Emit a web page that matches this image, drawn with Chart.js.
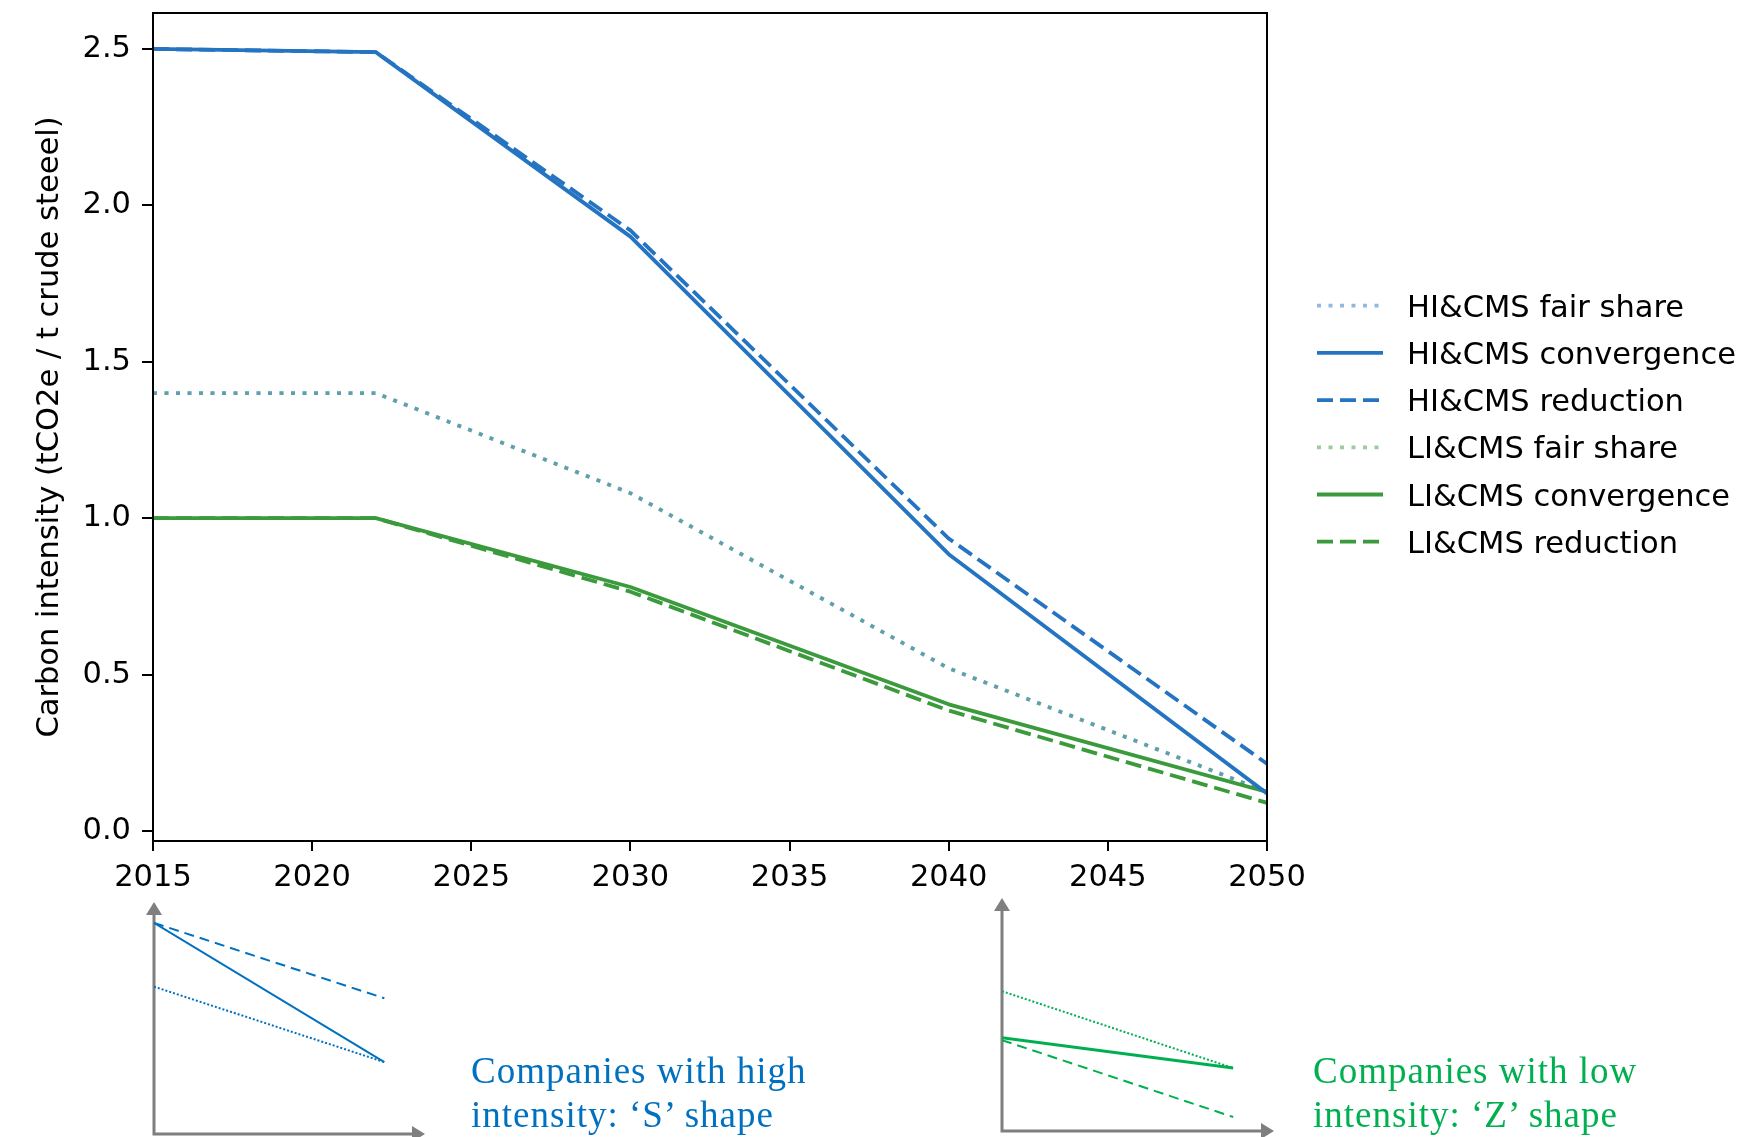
<!DOCTYPE html>
<html>
<head>
<meta charset="utf-8">
<script src="https://cdn.jsdelivr.net/npm/chart.js@4.4.1/dist/chart.umd.min.js"></script>
<style>
  html, body { margin: 0; padding: 0; background: #fff; }
  #wrap { position: relative; width: 1760px; height: 1137px; overflow: hidden; }
  canvas { position: absolute; }
  .note {
    position: absolute;
    font-family: 'Liberation Serif', 'Times New Roman', serif;
    font-size: 37px;
    line-height: 43.5px;
    white-space: nowrap;
    letter-spacing: 1px;
  }
</style>
</head>
<body>
<div id="wrap">
  <canvas id="main" width="1760" height="1137" style="left:0;top:0"></canvas>
  <canvas id="sketchS" width="300" height="247" style="left:140px;top:890px"></canvas>
  <canvas id="sketchZ" width="300" height="247" style="left:990px;top:890px"></canvas>
  <div class="note" style="left:471px;top:1049px;color:#0070c0">Companies with high<br>intensity: ‘S’ shape</div>
  <div class="note" style="left:1313px;top:1049px;color:#00b050">Companies with low<br>intensity: ‘Z’ shape</div>
</div>
<script>
// Pathway years (break points of each trajectory)
const YEARS = [2015, 2022, 2030, 2040, 2050];

// Carbon intensity pathways, tCO2e per tonne of crude steel
const HI_FAIR_SHARE  = [1.40, 1.40, 1.08, 0.52, 0.125];
const HI_CONVERGENCE = [2.50, 2.49, 1.90, 0.885, 0.12];
const HI_REDUCTION   = [2.50, 2.49, 1.92, 0.935, 0.215];
const LI_FAIR_SHARE  = [1.40, 1.40, 1.08, 0.52, 0.125];
const LI_CONVERGENCE = [1.00, 1.00, 0.78, 0.405, 0.125];
const LI_REDUCTION   = [1.00, 1.00, 0.765, 0.385, 0.09];

const SERIES_LABELS = [
  'HI&CMS fair share', 'HI&CMS convergence', 'HI&CMS reduction',
  'LI&CMS fair share', 'LI&CMS convergence', 'LI&CMS reduction'
];

const X_TICKS = [2015, 2020, 2025, 2030, 2035, 2040, 2045, 2050];
const Y_TICKS = [0.0, 0.5, 1.0, 1.5, 2.0, 2.5];
const Y_TITLE = 'Carbon intensity (tCO2e / t crude steeel)';

// Schematic shapes (relative units) for the two company types
const SKETCH_X = [0, 0.85];
const S_FAIR_SHARE  = [0.635, 0.31];
const S_CONVERGENCE = [0.91, 0.31];
const S_REDUCTION   = [0.91, 0.585];
const Z_FAIR_SHARE  = [0.60, 0.27];
const Z_CONVERGENCE = [0.40, 0.27];
const Z_REDUCTION   = [0.39, 0.06];

const FONT = '"DejaVu Sans", "Liberation Sans", sans-serif';
const FONT_SIZE = 30.5;
const BLUE = '#2474c2';
const GREEN = '#3a9a3c';
const BLUE_HALF = 'rgba(36,116,194,0.5)';
const GREEN_HALF = 'rgba(58,154,60,0.5)';
const DOT = [4, 7.5];
const DASH = [16, 7];
const LW = 3.8;

const toPoints = vals => YEARS.map((x, i) => ({ x, y: vals[i] }));

function series(label, vals, color, dash, order) {
  return {
    label, data: toPoints(vals), borderColor: color, backgroundColor: color,
    borderWidth: LW, borderDash: dash, borderCapStyle: 'butt', borderJoinStyle: 'round',
    pointRadius: 0, pointHoverRadius: 0, fill: false, tension: 0, order
  };
}

// Full box around the plotting area
const framePlugin = {
  id: 'frame',
  afterDatasetsDraw(chart) {
    const { ctx, chartArea: a } = chart;
    ctx.save();
    ctx.strokeStyle = '#000';
    ctx.lineWidth = 2;
    ctx.strokeRect(a.left, a.top, a.right - a.left, a.bottom - a.top);
    ctx.restore();
  }
};

// Key placed to the right of the axes
const keyPlugin = {
  id: 'seriesKey',
  afterDraw(chart) {
    const { ctx, chartArea: a } = chart;
    const gap = 47.2;
    const sets = chart.data.datasets;
    const y0 = (a.top + a.bottom) / 2 - 3.3 - gap * (sets.length - 1) / 2;
    sets.forEach((ds, i) => {
      const y = y0 + i * gap;
      ctx.save();
      ctx.strokeStyle = ds.borderColor;
      ctx.lineWidth = ds.borderWidth;
      ctx.lineCap = 'butt';
      ctx.setLineDash(ds.borderDash || []);
      ctx.beginPath();
      ctx.moveTo(a.right + 50, y);
      ctx.lineTo(a.right + 116, y);
      ctx.stroke();
      ctx.setLineDash([]);
      ctx.fillStyle = '#000';
      ctx.font = FONT_SIZE + 'px ' + FONT;
      ctx.textAlign = 'left';
      ctx.textBaseline = 'alphabetic';
      ctx.fillText(ds.label, a.right + 140, y + 11);
      ctx.restore();
    });
  }
};

new Chart(document.getElementById('main'), {
  type: 'line',
  data: {
    datasets: [
      series(SERIES_LABELS[0], HI_FAIR_SHARE, BLUE_HALF, DOT, 5),
      series(SERIES_LABELS[1], HI_CONVERGENCE, BLUE, [], 2),
      series(SERIES_LABELS[2], HI_REDUCTION, BLUE, DASH, 1),
      series(SERIES_LABELS[3], LI_FAIR_SHARE, GREEN_HALF, DOT, 6),
      series(SERIES_LABELS[4], LI_CONVERGENCE, GREEN, [], 4),
      series(SERIES_LABELS[5], LI_REDUCTION, GREEN, DASH, 3)
    ]
  },
  options: {
    responsive: false,
    animation: false,
    devicePixelRatio: 1,
    layout: { padding: { top: 13, right: 493, bottom: 0, left: 0 } },
    plugins: { legend: { display: false }, tooltip: { enabled: false } },
    scales: {
      x: {
        type: 'linear',
        min: 2015,
        max: 2050,
        afterBuildTicks: s => { s.ticks = X_TICKS.map(v => ({ value: v })); },
        afterFit: s => { s.height = 296; s.paddingLeft = 0; s.paddingRight = 0; },
        border: { display: false },
        grid: {
          display: true, drawOnChartArea: false, drawTicks: true,
          tickLength: 10, tickWidth: 2, tickColor: '#000', color: '#000', lineWidth: 2
        },
        ticks: {
          padding: 9, color: '#000', autoSkip: false, maxRotation: 0,
          font: { family: FONT, size: FONT_SIZE },
          callback: v => String(v)
        }
      },
      y: {
        type: 'linear',
        min: -0.032,
        max: 2.615,
        afterBuildTicks: s => { s.ticks = Y_TICKS.map(v => ({ value: v })); },
        afterFit: s => { s.width = 153; s.paddingTop = 0; s.paddingBottom = 0; },
        border: { display: false },
        grid: {
          display: true, drawOnChartArea: false, drawTicks: true,
          tickLength: 11, tickWidth: 2, tickColor: '#000', color: '#000', lineWidth: 2
        },
        ticks: {
          padding: 11, color: '#000',
          font: { family: FONT, size: FONT_SIZE },
          callback: v => Number(v).toFixed(1)
        },
        title: {
          display: true, text: Y_TITLE, color: '#000',
          font: { family: FONT, size: FONT_SIZE },
          padding: { top: 32, bottom: 0 }
        }
      }
    }
  },
  plugins: [framePlugin, keyPlugin]
});

// Grey arrowed axes for the schematic panels
const arrowAxes = {
  id: 'arrowAxes',
  beforeDatasetsDraw(chart) {
    const { ctx, chartArea: a } = chart;
    const head = 13, half = 8;
    ctx.save();
    ctx.strokeStyle = '#7f7f7f';
    ctx.fillStyle = '#7f7f7f';
    ctx.lineWidth = 3;
    ctx.beginPath();
    ctx.moveTo(a.left, a.bottom + 1.5);
    ctx.lineTo(a.left, a.top + head);
    ctx.moveTo(a.left, a.bottom);
    ctx.lineTo(a.right - head, a.bottom);
    ctx.stroke();
    ctx.beginPath();
    ctx.moveTo(a.left, a.top);
    ctx.lineTo(a.left - half, a.top + head);
    ctx.lineTo(a.left + half, a.top + head);
    ctx.closePath();
    ctx.fill();
    ctx.beginPath();
    ctx.moveTo(a.right, a.bottom);
    ctx.lineTo(a.right - head, a.bottom - half);
    ctx.lineTo(a.right - head, a.bottom + half);
    ctx.closePath();
    ctx.fill();
    ctx.restore();
  }
};

function sketch(id, color, pad, lines) {
  new Chart(document.getElementById(id), {
    type: 'line',
    data: {
      datasets: lines.map(l => ({
        data: SKETCH_X.map((x, i) => ({ x, y: l.values[i] })),
        borderColor: color, borderWidth: l.width, borderDash: l.dash,
        borderCapStyle: 'butt', pointRadius: 0, fill: false, tension: 0
      }))
    },
    options: {
      responsive: false, animation: false, devicePixelRatio: 1,
      layout: { padding: pad },
      plugins: { legend: { display: false }, tooltip: { enabled: false } },
      scales: {
        x: { type: 'linear', display: false, min: 0, max: 1 },
        y: { type: 'linear', display: false, min: 0, max: 1 }
      }
    },
    plugins: [arrowAxes]
  });
}

sketch('sketchS', '#0070c0', { left: 14, top: 12, right: 15, bottom: 3 }, [
  { values: S_FAIR_SHARE, width: 2, dash: [2, 2] },
  { values: S_CONVERGENCE, width: 2, dash: [] },
  { values: S_REDUCTION, width: 2, dash: [10, 6] }
]);

sketch('sketchZ', '#00b050', { left: 12, top: 8, right: 16, bottom: 6 }, [
  { values: Z_FAIR_SHARE, width: 2, dash: [2, 2] },
  { values: Z_CONVERGENCE, width: 3, dash: [] },
  { values: Z_REDUCTION, width: 2, dash: [10, 6] }
]);
</script>
</body>
</html>
